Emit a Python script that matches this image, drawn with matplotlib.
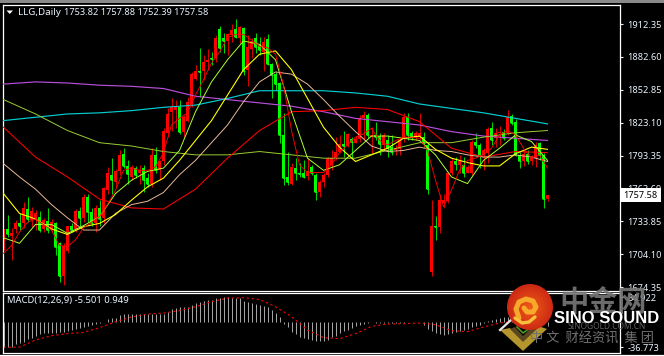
import matplotlib
matplotlib.use("Agg")
import matplotlib.pyplot as plt
import numpy as np
from matplotlib.patches import Circle, Polygon, Rectangle

# daily bars
opens = [1715, 1727, 1721, 1727, 1732, 1732, 1745, 1735, 1737, 1738,
         1727, 1734, 1726, 1732, 1714, 1684, 1707, 1730, 1727, 1743,
         1737, 1756, 1742, 1732, 1746, 1737, 1762, 1776, 1769, 1779,
         1795, 1784, 1774, 1782, 1778, 1782, 1773, 1768, 1794, 1780,
         1788, 1814, 1833, 1835, 1837, 1815, 1825, 1839, 1863, 1870,
         1870, 1878, 1882, 1882, 1908, 1900, 1897, 1902, 1908, 1900,
         1909, 1871, 1890, 1900, 1893, 1887, 1899, 1876, 1867, 1859,
         1812, 1774, 1768, 1782, 1778, 1778, 1775, 1783, 1776, 1760,
         1769, 1776, 1785, 1791, 1797, 1804, 1802, 1808, 1805, 1808,
         1827, 1830, 1810, 1812, 1811, 1803, 1807, 1801, 1798, 1799,
         1808, 1828, 1814, 1810, 1810, 1810, 1803, 1688, 1730, 1729,
         1750, 1752, 1778, 1788, 1785, 1785, 1778, 1778, 1806, 1803,
         1794, 1796, 1818, 1809, 1814, 1815, 1814, 1829, 1824, 1794,
         1788, 1795, 1788, 1791, 1805, 1794, 1753.82]
highs = [1727, 1740, 1728, 1735, 1741, 1751, 1756, 1747, 1744, 1743,
         1737, 1746, 1736, 1733, 1715, 1714, 1730, 1732, 1745, 1747,
         1759, 1759, 1746, 1749, 1753, 1765, 1783, 1791, 1781, 1798,
         1800, 1789, 1785, 1784, 1785, 1785, 1778, 1800, 1801, 1789,
         1818, 1836, 1845, 1844, 1844, 1830, 1846, 1869, 1875, 1891,
         1884, 1890, 1887, 1902, 1911, 1904, 1904, 1912, 1917, 1911,
         1910, 1902, 1900, 1904, 1901, 1901, 1903, 1877, 1869, 1860,
         1832, 1797, 1787, 1791, 1787, 1789, 1791, 1785, 1778, 1771,
         1778, 1792, 1798, 1810, 1812, 1816, 1814, 1810, 1811, 1830,
         1834, 1832, 1819, 1824, 1814, 1814, 1812, 1812, 1803, 1809,
         1832, 1832, 1816, 1816, 1832, 1815, 1806, 1753, 1739, 1759,
         1759, 1778, 1791, 1792, 1794, 1792, 1785, 1807, 1814, 1805,
         1800, 1819, 1824, 1818, 1820, 1817, 1835, 1831, 1826, 1797,
         1798, 1798, 1794, 1806, 1806, 1796, 1757.88]
lows = [1708, 1720, 1699, 1723, 1726, 1728, 1733, 1729, 1726, 1724,
        1724, 1723, 1724, 1703, 1679, 1676, 1705, 1724, 1724, 1729,
        1733, 1733, 1730, 1724, 1730, 1732, 1759, 1759, 1765, 1776,
        1782, 1768, 1771, 1773, 1768, 1760, 1765, 1765, 1778, 1771,
        1785, 1810, 1816, 1818, 1813, 1810, 1824, 1837, 1862, 1846,
        1862, 1871, 1875, 1878, 1887, 1886, 1884, 1896, 1900, 1895,
        1866, 1856, 1882, 1886, 1884, 1870, 1875, 1845, 1853, 1805,
        1767, 1767, 1767, 1771, 1774, 1773, 1771, 1776, 1753, 1756,
        1765, 1774, 1780, 1789, 1796, 1792, 1801, 1791, 1805, 1806,
        1807, 1809, 1796, 1807, 1794, 1798, 1792, 1794, 1794, 1794,
        1806, 1807, 1807, 1807, 1808, 1801, 1759, 1684, 1717, 1723,
        1746, 1750, 1776, 1780, 1778, 1774, 1778, 1776, 1800, 1782,
        1780, 1787, 1803, 1801, 1803, 1807, 1812, 1821, 1793, 1782,
        1784, 1786, 1785, 1783, 1789, 1746, 1752.39]
closes = [1727, 1722, 1723, 1732, 1730, 1746, 1736, 1743, 1741, 1726,
          1735, 1726, 1733, 1711, 1684, 1712, 1730, 1726, 1743, 1737,
          1756, 1742, 1732, 1746, 1736, 1764, 1778, 1771, 1779, 1794,
          1784, 1777, 1783, 1776, 1780, 1771, 1768, 1794, 1780, 1788,
          1816, 1831, 1837, 1838, 1815, 1828, 1842, 1867, 1870, 1869,
          1878, 1880, 1881, 1900, 1891, 1897, 1903, 1907, 1901, 1910,
          1870, 1892, 1897, 1892, 1889, 1896, 1876, 1866, 1858, 1812,
          1773, 1769, 1783, 1778, 1777, 1774, 1779, 1778, 1760, 1769,
          1776, 1791, 1791, 1797, 1804, 1802, 1813, 1806, 1808, 1827,
          1830, 1812, 1812, 1810, 1804, 1812, 1800, 1797, 1800, 1807,
          1828, 1812, 1810, 1814, 1814, 1805, 1763, 1730, 1729, 1753,
          1753, 1778, 1788, 1786, 1788, 1778, 1783, 1806, 1803, 1794,
          1798, 1817, 1807, 1814, 1815, 1809, 1828, 1823, 1794, 1788,
          1795, 1788, 1791, 1803, 1794, 1754, 1757.58]

# moving averages, sampled along the bars
ma_purple = [1858, 1860, 1859, 1857, 1856, 1854, 1847, 1844, 1841, 1838, 1833, 1827, 1824, 1821, 1815, 1811, 1809, 1807]
ma_cyan = [1825, 1828, 1831, 1832, 1834, 1837, 1839, 1845, 1852, 1852, 1852, 1850, 1847, 1840, 1836, 1832, 1827, 1822]
ma_olive = [1844, 1831, 1816, 1805, 1802, 1797, 1794, 1794, 1797, 1794, 1791, 1791, 1798, 1805, 1805, 1810, 1814, 1816]
ma_red_slow = [1819, 1792, 1774, 1754, 1746, 1745, 1763, 1791, 1816, 1833, 1834, 1837, 1835, 1824, 1800, 1792, 1797, 1796]
ma_tan = [1786, 1774, 1763, 1749, 1737, 1726, 1726, 1741, 1749, 1752, 1760, 1776, 1789, 1805, 1821, 1842, 1860, 1869,
          1867, 1858, 1844, 1829, 1815, 1802, 1797, 1798, 1801, 1798, 1797, 1794, 1792, 1792, 1794, 1792, 1788]
ma_yellow = [1759, 1741, 1736, 1727, 1722, 1729, 1732, 1740, 1753, 1765, 1773, 1789, 1807, 1825, 1848, 1871, 1885, 1888,
             1871, 1845, 1819, 1801, 1788, 1794, 1800, 1809, 1811, 1799, 1791, 1787, 1784, 1784, 1795, 1801, 1799]
ma_green = [1719, 1714, 1731, 1731, 1723, 1730, 1738, 1759, 1771, 1779, 1782, 1798, 1833, 1860, 1880, 1897, 1894, 1880,
            1833, 1791, 1780, 1785, 1798, 1811, 1811, 1809, 1807, 1794, 1774, 1768, 1789, 1800, 1812, 1806, 1789]
ma_red_fast = [1705, 1712, 1724, 1733, 1736, 1731, 1726, 1712, 1711, 1717, 1728, 1733, 1738, 1749, 1762, 1780, 1782,
               1780, 1780, 1783, 1796, 1821, 1827, 1832, 1848, 1862, 1877, 1887, 1900, 1903, 1903, 1898, 1892, 1891,
               1885, 1857, 1816, 1785, 1778, 1778, 1778, 1785, 1796, 1803, 1810, 1813, 1818, 1807, 1803, 1807, 1810,
               1810, 1809, 1798, 1771, 1747, 1762, 1780, 1789, 1791, 1794, 1800, 1812, 1816, 1812, 1800, 1791, 1794, 1782]

# MACD histogram and signal
macd_hist = [-36.8, -36.3, -35.9, -32.5, -30.1, -28.7, -25.3, -22.9, -20.1, -18.2,
             -16.7, -16.7, -15.8, -15.8, -14.8, -14.3, -12.9, -12.0, -11.0, -9.1,
             -7.2, -5.7, -4.8, -3.8, -2.4, 0.0, 3.3, 4.8, 5.7, 9.6,
             11.0, 11.0, 10.5, 10.5, 11.0, 11.0, 10.5, 10.5, 10.5, 11.0,
             11.5, 13.4, 17.7, 20.1, 20.6, 20.6, 21.5, 23.9, 26.3, 28.7,
             29.6, 31.1, 31.5, 33.5, 34.4, 34.9, 34.9, 34.4, 34.4, 33.5,
             30.1, 27.7, 26.3, 25.3, 23.9, 22.5, 20.6, 16.7, 12.0, 6.2,
             -3.3, -7.2, -14.3, -18.2, -21.5, -23.9, -24.9, -26.3, -27.2, -27.7,
             -27.7, -26.3, -22.5, -20.1, -16.3, -13.9, -11.5, -9.1, -6.7, -5.3,
             -3.3, -1.9, -1.0, -1.9, -1.9, -1.9, -2.4, -2.4, -2.4, -1.9,
             -1.9, -1.0, -0.5, -0.5, -1.0, -4.3, -10.5, -13.9, -16.3, -17.7,
             -18.6, -17.7, -16.3, -15.3, -13.9, -11.5, -10.5, -7.6, -6.7, -4.3,
             -1.9, 0.5, 2.9, 3.8, 4.8, 6.2, 6.7, 7.6, 7.6, 6.7,
             5.3, 3.8, 2.9, 1.9, 0.9, -1.5, -5.501]
macd_signal = [-36.8, -36.5, -26.3, -20.1, -17.2, -15.3, -8.6, 0.0, 6.7, 11.0, 12.4, 15.8, 21.5, 28.7, 33.9, 34.4, 32.0, 21.5,
               7.2, -12.0, -22.9, -24.4, -17.2, -6.7, -3.3, -2.9, -1.9, -4.3, -12.9, -14.3, -7.6, -1.9, 0.5, 2.9, 0.949]

price_ticks = [1912.35, 1882.60, 1852.85, 1823.10, 1793.35, 1763.60, 1733.85, 1704.10, 1674.35]
macd_ticks = [34.922, -36.773]

W, H = 664, 356
FONT = "Noto Sans"
RED, GREEN = "#ff0000", "#00ff00"
TEXT = "#eaf4ff"


def panel(fig, left, top, right, bottom):
    # axes rectangle given in picture pixels
    ax = fig.add_axes([left / W, 1 - bottom / H, (right - left) / W, (bottom - top) / H])
    ax.set_facecolor("black")
    for s in ax.spines.values():
        s.set_color("white")
        s.set_linewidth(0.9)
    ax.yaxis.tick_right()
    ax.set_xticks([])
    ax.tick_params(axis="y", colors=TEXT, length=2.5, width=0.8, pad=3, labelsize=6.6)
    ax.set_xlim(-0.25, 154)
    return ax


def draw_watermark(ov):
    yy, xx = np.mgrid[284:331, 507:554]
    dist = np.hypot(xx - 530, yy - 307) / 23
    grad = np.zeros(dist.shape + (3,))
    grad[..., 0] = 0.93 - 0.13 * dist
    grad[..., 1] = 0.36 - 0.20 * dist
    grad[..., 2] = 0.08
    im = ov.imshow(grad, extent=(507, 554, 331, 284), zorder=3, aspect="auto")
    im.set_clip_path(Circle((530, 307), 23, transform=ov.transData))
    ov.plot([519, 516, 519, 526, 533, 536, 533, 527, 524], [318, 309, 302, 299, 301, 307, 312, 312, 308],
            color="#f7a92b", lw=3.6, solid_capstyle="round", zorder=4)
    ov.plot([515, 522, 529, 535], [318, 323, 322, 317], color="#f7c23a", lw=2.4, solid_capstyle="round", zorder=4)
    ov.add_patch(Polygon([(500, 330), (523, 351), (547, 329), (538, 326), (523, 341), (510, 328)],
                         fc="#b4962c", ec="none", zorder=2))
    ov.add_patch(Polygon([(510, 329), (523, 342), (538, 328), (533, 326), (523, 336), (515, 327)],
                         fc="#5a4620", ec="none", zorder=2))
    ov.plot([517, 523, 530], [327, 333, 328], color="#4a9a20", lw=1.2, zorder=2)
    ov.plot([500, 511], [330, 320], color="#e8e8e8", lw=1.6, zorder=2)
    ov.text(603, 302, "中金网", color="#787878", fontsize=21, fontweight="bold", ha="center", va="center",
            family="Noto Sans CJK SC", alpha=0.9, zorder=2)
    ov.text(607, 326.5, "SINOGOLD.COM.CN", color="#606060", fontsize=6, ha="center", va="center",
            family=FONT, zorder=2)
    ov.text(607, 318.5, "SINO SOUND", color="white", fontsize=12, fontweight="bold", ha="center", va="center",
            family="Liberation Sans", zorder=5)
    ov.text(592, 338, "中 文  财经资讯  集 团", color="#707070", fontsize=9.5, ha="center", va="center",
            family="Noto Sans CJK SC", zorder=2)


def main():
    plt.rcParams["font.family"] = [FONT, "DejaVu Sans"]
    fig = plt.figure(figsize=(W / 100, H / 100), dpi=100, facecolor="black")

    ax = panel(fig, 2.5, 4.5, 619.5, 290.5)
    ax.set_ylim(1671.3, 1930.0)
    o, h, l, c = map(np.array, (opens, highs, lows, closes))
    idx = np.arange(len(o))
    colors = np.where(c >= o, RED, GREEN)
    ax.vlines(idx, l, h, colors=colors, lw=0.6, zorder=2)
    ax.bar(idx, c - o, bottom=o, width=0.72, color=colors, linewidth=0, zorder=2)
    ax.hlines(c, idx - 0.36, idx + 0.36, colors=colors, lw=0.6, zorder=2)

    slow = np.arange(0, 137, 8)
    mid = np.arange(0, 137, 4)
    fast = np.arange(0, 137, 2)
    ax.plot(slow, ma_purple, color="#b84fd8", lw=0.85, zorder=3)
    ax.plot(slow, ma_cyan, color="#00ced1", lw=0.85, zorder=3)
    ax.plot(slow, ma_olive, color="#9acd32", lw=0.7, zorder=3)
    ax.plot(slow, ma_red_slow, color=RED, lw=0.75, zorder=3)
    ax.plot(mid, ma_tan, color="#e9b996", lw=0.7, zorder=3)
    ax.plot(mid, ma_yellow, color="#ffff00", lw=0.8, zorder=3)
    ax.plot(mid, ma_green, color="#adff2f", lw=0.7, zorder=3)
    ax.plot(fast, ma_red_fast, color=RED, lw=0.65, zorder=3)

    ax.set_yticks(price_ticks, [f"{t:.2f}" for t in price_ticks])
    ax.text(1.0065, closes[-1], f"{closes[-1]:.2f}", transform=ax.get_yaxis_transform(), color="black", fontsize=6.6,
            va="center", ha="left", clip_on=False, zorder=6,
            bbox=dict(fc="white", ec="none", boxstyle="square,pad=0.3"))

    ax2 = panel(fig, 2.5, 292.5, 619.5, 352.5)
    ax2.set_ylim(-44.2, 41.9)
    ax2.vlines(np.arange(len(macd_hist)), 0, macd_hist, colors="#c4c4c4", lw=0.6)
    ax2.plot(mid, macd_signal, color=RED, lw=0.8, ls=(0, (2, 2.5)))
    ax2.set_yticks(macd_ticks, ["34.922", "-36.773"])

    # title text, menu band and watermark sit on a full-figure overlay in pixels
    ov = fig.add_axes([0, 0, 1, 1], facecolor="none", zorder=10)
    ov.set_xlim(0, W)
    ov.set_ylim(H, 0)
    ov.axis("off")
    ov.add_patch(Rectangle((0, 0), W, 2.5, fc="#8a8a8a", ec="none"))
    ov.plot([0, W], [355, 355], color="white", lw=0.9)
    ov.add_patch(Polygon([(6.5, 10.5), (13, 10.5), (9.75, 14)], fc="white", ec="none"))
    ov.text(18, 12.5, "LLG,Daily", color=TEXT, fontsize=7, va="center")
    ov.text(64, 12.5, "1753.82 1757.88 1752.39 1757.58", color=TEXT, fontsize=6.6, va="center")
    ov.text(7, 301, "MACD(12,26,9) -5.501 0.949", color=TEXT, fontsize=6.8, va="center")
    draw_watermark(ov)
    ov.set_xlim(0, W)
    ov.set_ylim(H, 0)

    fig.savefig("out.png", dpi=100, facecolor="black")
    plt.close(fig)


if __name__ == "__main__":
    main()
